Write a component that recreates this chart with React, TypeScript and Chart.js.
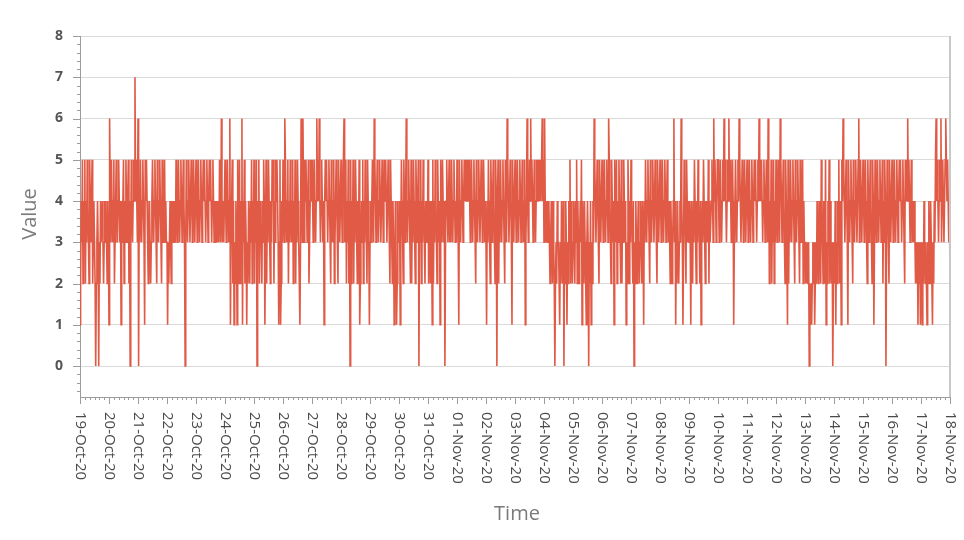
import React, { useEffect, useRef } from 'react';
import { Chart, registerables } from 'chart.js';

Chart.register(...registerables);

// Date tick labels (one per day)
const dateLabels: string[] = [
  '19-Oct-20', '20-Oct-20', '21-Oct-20', '22-Oct-20', '23-Oct-20', '24-Oct-20',
  '25-Oct-20', '26-Oct-20', '27-Oct-20', '28-Oct-20', '29-Oct-20', '30-Oct-20',
  '31-Oct-20', '01-Nov-20', '02-Nov-20', '03-Nov-20', '04-Nov-20', '05-Nov-20',
  '06-Nov-20', '07-Nov-20', '08-Nov-20', '09-Nov-20', '10-Nov-20', '11-Nov-20',
  '12-Nov-20', '13-Nov-20', '14-Nov-20', '15-Nov-20', '16-Nov-20', '17-Nov-20',
  '18-Nov-20',
];

// Half-hourly readings, one string of digits per day
const dayValues: string[] = [
  '124352435243543254345234320234303243343234343243', // 19-Oct
  '164354345234543454341434524354345240354345474543', // 20-Oct
  '604354345431545432343234543454325434543254345343', // 21-Oct
  '313234324343343543454345434543035434543454345434', // 22-Oct
  '543454345434545434543454543454343434343543643434', // 23-Oct
  '543454346134524132431523524361435243132432435243', // 24-Oct
  '524350435243324354135243543243545243545431351243', // 25-Oct
  '543654345243543452435243543213643643545434523454', // 26-Oct
  '543454346454643454341454543454325434523454325434', // 27-Oct
  '543456345243524052435243543243512343524354325431', // 28-Oct
  '343454365434543454345434545434543254324312431243', // 29-Oct
  '341354325434643454325243543254345043524354324343', // 30-Oct
  '524324315243543254341543543403454345343543454343', // 31-Oct
  '543154345434545454545434543454325434543454345434', // 01-Nov
  '314354325434543254045243543454325436543454315434', // 02-Nov
  '543454345434543451346434546454345434545454545645', // 03-Nov
  '364343434323432432023243321324324032431324352432', // 04-Nov
  '343243524323435143243213430324132436543454325434', // 05-Nov
  '543454345436543254341543524354325243543413254243', // 06-Nov
  '543240324323432343243143543454325434543454325434', // 07-Nov
  '543454345434543432432346341324323436431354325434', // 08-Nov
  '343143243543243543241343543243435243345436454345', // 09-Nov
  '543454345464543454645434541345434546543454345434', // 10-Nov
  '543454345434545434546454543454345436524352435243', // 11-Nov
  '543454365434543254315243543454325434543254345243', // 12-Nov
  '323232302121232312324323432543243251324352432302', // 13-Nov
  '324132435243154654345431543454325434543456345434', // 14-Nov
  '543454325434543254135434543454345243540354325434', // 15-Nov
  '543454345434545434543254546454345434343232313231', // 16-Nov
  '321324323213243243213243564543454634543456545434', // 17-Nov
];
const finalValue: number[] = [2]; // 18-Nov 00:00

const yTickValues: number[] = [0, 1, 2, 3, 4, 5, 6, 7, 8];
const yMin = -0.75;
const yMax = 8;

const FONT = '"Open Sans", "DejaVu Sans", sans-serif';

const decorPlugin = {
  id: 'decor',
  afterDraw(chart: any) {
    const { ctx, chartArea: a, scales } = chart;
    const x = scales.x;
    const y = scales.y;
    const seg = (x1: number, y1: number, x2: number, y2: number) => {
      ctx.beginPath();
      ctx.moveTo(x1, y1);
      ctx.lineTo(x2, y2);
      ctx.stroke();
    };
    ctx.save();
    // right border
    ctx.strokeStyle = '#c8c8c8';
    ctx.lineWidth = 2;
    seg(a.right, a.top, a.right, a.bottom);

    // y ticks (major every 1, minor every 0.2)
    ctx.strokeStyle = '#9c9c9c';
    ctx.lineWidth = 1;
    for (let k = Math.ceil(yMin * 5); k <= yMax * 5; k++) {
      const py = Math.round(y.getPixelForValue(k / 5)) + 0.5;
      const major = k % 5 === 0;
      seg(a.left - (major ? 7 : 3), py, a.left, py);
    }
    // x ticks (major each day, minor every 4 hours)
    const days = dateLabels.length - 1;
    for (let k = 0; k <= days * 6; k++) {
      const px = Math.round(x.getPixelForValue(k / 6)) + 0.5;
      const major = k % 6 === 0;
      seg(px, a.bottom, px, a.bottom + (major ? 7 : 3));
    }

    // x labels, rotated clockwise
    ctx.fillStyle = '#4a4a4a';
    ctx.font = '15px ' + FONT;
    ctx.textAlign = 'left';
    ctx.textBaseline = 'middle';
    dateLabels.forEach((lab, d) => {
      ctx.save();
      ctx.translate(x.getPixelForValue(d), a.bottom + 15);
      ctx.rotate(Math.PI / 2);
      ctx.fillText(lab, 0, 0);
      ctx.restore();
    });

    // axis titles
    ctx.fillStyle = '#7a7a7a';
    ctx.font = '20px ' + FONT;
    ctx.textAlign = 'center';
    ctx.textBaseline = 'middle';
    ctx.fillText('Time', (a.left + a.right) / 2 + 2, 514);
    ctx.save();
    ctx.translate(30, 214);
    ctx.rotate(-Math.PI / 2);
    ctx.fillText('Value', 0, 0);
    ctx.restore();
    ctx.restore();
  },
};

export default function App() {
  const canvasRef = useRef<HTMLCanvasElement | null>(null);

  useEffect(() => {
    if (!canvasRef.current) return;
    const data: { x: number; y: number }[] = [];
    dayValues.forEach((s, d) => {
      const n = s.length;
      for (let j = 0; j < n; j++) data.push({ x: d + j / n, y: Number(s[j]) });
    });
    finalValue.forEach((v) => data.push({ x: dayValues.length, y: v }));

    const chart = new Chart(canvasRef.current, {
      type: 'line',
      data: {
        datasets: [
          {
            label: 'Value',
            data,
            borderColor: '#e05a46',
            backgroundColor: '#e05a46',
            borderWidth: 1.6,
            pointRadius: 0,
            tension: 0,
            fill: false,
          },
        ],
      },
      options: {
        animation: false,
        responsive: true,
        maintainAspectRatio: false,
        parsing: false as any,
        normalized: true,
        layout: { padding: { left: 0, right: 14, top: 36, bottom: 0 } },
        plugins: {
          legend: { display: false },
          tooltip: { enabled: false },
        },
        scales: {
          x: {
            type: 'linear',
            min: 0,
            max: dateLabels.length - 1,
            grid: { display: false },
            border: { color: '#9c9c9c', width: 1 },
            ticks: { display: false },
            afterFit: (s: any) => {
              s.height = 143;
            },
          },
          y: {
            type: 'linear',
            min: yMin,
            max: yMax,
            afterBuildTicks: (s: any) => {
              s.ticks = yTickValues.map((v) => ({ value: v }));
            },
            grid: { color: '#dadada', drawTicks: false, lineWidth: 1 },
            border: { color: '#9c9c9c', width: 1 },
            ticks: {
              padding: 17,
              color: '#555555',
              font: { family: FONT, size: 14, weight: 'bold' },
            },
            afterFit: (s: any) => {
              s.width = 80;
            },
          },
        },
      },
      plugins: [decorPlugin],
    });
    return () => chart.destroy();
  }, []);

  return (
    <div style={{ position: 'absolute', left: 0, top: 0, width: 964, height: 540, background: '#ffffff' }}>
      <canvas ref={canvasRef} />
    </div>
  );
}
